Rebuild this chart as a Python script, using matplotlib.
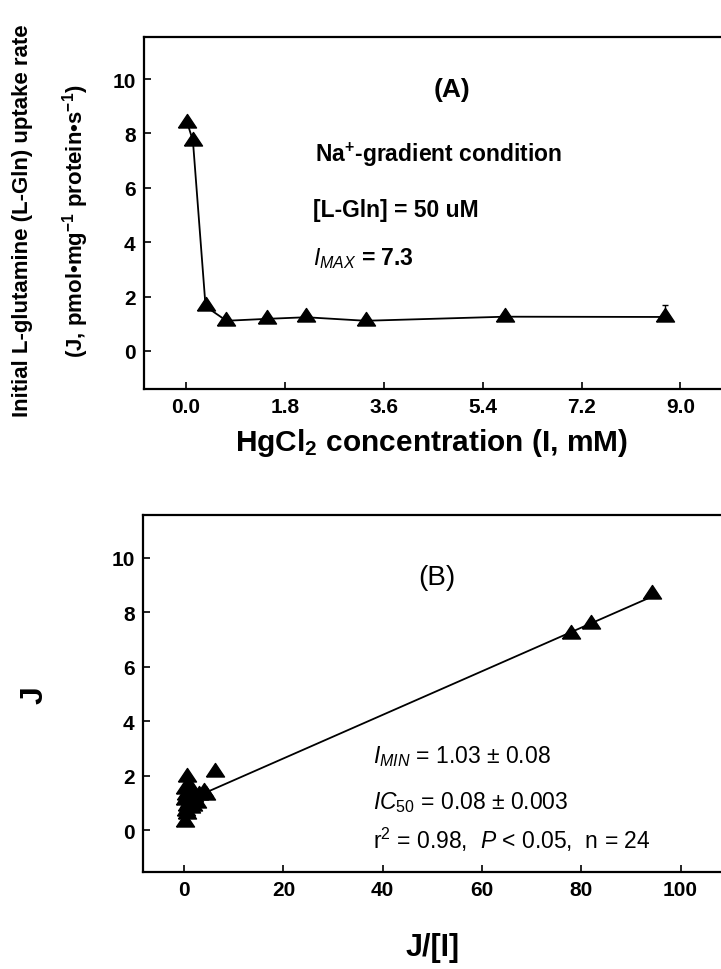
import numpy as np
import matplotlib
matplotlib.use("Agg")
import matplotlib.pyplot as plt

plt.rcParams['font.family'] = ['Liberation Sans', 'DejaVu Sans']
plt.rcParams['mathtext.fontset'] = 'custom'
plt.rcParams['mathtext.rm'] = 'Liberation Sans'
plt.rcParams['mathtext.it'] = 'Liberation Sans:italic'
plt.rcParams['mathtext.bf'] = 'Liberation Sans:bold'

# panel A: uptake rate vs HgCl2 concentration
a_conc = [0.03, 0.13, 0.36, 0.74, 1.47, 2.19, 3.27, 5.81, 8.71]
a_rate = [8.38, 7.73, 1.64, 1.11, 1.18, 1.24, 1.11, 1.26, 1.25]
a_err = [0, 0, 0, 0, 0, 0, 0, 0, 0.45]
a_xticks = [0.0, 1.8, 3.6, 5.4, 7.2, 9.0]
a_xticklabels = ['0.0', '1.8', '3.6', '5.4', '7.2', '9.0']

# panel B: J vs J/[I]
b_ratio = [77.9, 81.9, 94.3, 0.5, 6.2, 0.2, 3.9, 0.3, 0.5, 1.0, 0.2, 0.8,
           1.5, 0.4, 2.0, 1.2, 0.1, 2.5, 0.6, 1.8, 0.9, 3.0, 1.4, 4.4]
b_j = [7.19, 7.56, 8.66, 1.93, 2.14, 0.28, 1.38, 0.7, 0.9, 1.0, 1.1, 1.2,
       1.1, 1.3, 1.2, 1.4, 1.5, 1.0, 0.6, 0.9, 1.6, 1.3, 0.8, 1.3]
b_fit_x = [3.9, 93.3]
b_fit_y = [1.34, 8.49]
b_xticks = [0, 20, 40, 60, 80, 100]

yticks = [0, 2, 4, 6, 8, 10]

# flat filled triangle, centroid at origin
tri = [(-1, -0.5), (1, -0.5), (0, 1.0), (-1, -0.5)]

fig = plt.figure(figsize=(7.21, 9.70), dpi=100)
axA = fig.add_axes([144 / 721, 1 - 390 / 970, 1 - 144 / 721 + 0.001, 352 / 970])
axB = fig.add_axes([143 / 721, 1 - 873 / 970, 1 - 143 / 721 + 0.001, 357 / 970])

for ax in (axA, axB):
    for s in ax.spines.values():
        s.set_linewidth(1.6)
    ax.spines['right'].set_visible(False)
    ax.tick_params(direction='in', length=5, width=1.2, labelsize=15, pad=6,
                   right=False, top=False)
    ax.set_yticks(yticks)

# ---- panel A
axA.errorbar(a_conc, a_rate, yerr=[np.zeros(len(a_err)), a_err], fmt='-',
             marker=tri, color='black', lw=1.3, ms=13, capsize=2, elinewidth=1)
axA.set_xlim(-0.76, 9.75)
axA.set_ylim(-1.4, 11.55)
axA.set_xticks(a_xticks)
axA.set_xticklabels(a_xticklabels)
for lab in axA.get_xticklabels() + axA.get_yticklabels():
    lab.set_fontweight('bold')
axA.text(4.85, 9.63, '(A)', fontsize=19, fontweight='bold', ha='center', va='center')
axA.text(2.35, 7.24, r'Na$^{\mathbf{+}}$-gradient condition', fontsize=16.5,
         fontweight='bold', va='center')
axA.text(2.31, 5.22, '[L-Gln] = 50 uM', fontsize=16.5, fontweight='bold', va='center')
axA.text(2.31, 3.45, r'$I_{MAX}$ = 7.3', fontsize=16.5, fontweight='bold', va='center')
fig.text(432 / 721, 1 - 443 / 970, r'HgCl$_{\mathbf{2}}$ concentration (I, mM)',
         fontsize=21.5, fontweight='bold', ha='center', va='center')
fig.text(23 / 721, 1 - 221 / 970, 'Initial L-glutamine (L-Gln) uptake rate',
         rotation=90, fontsize=16, fontweight='bold', ha='center', va='center')
fig.text(76 / 721, 1 - 221 / 970,
         r'(J, pmol•mg$^{\mathbf{-1}}$ protein•s$^{\mathbf{-1}}$)',
         rotation=90, fontsize=16, fontweight='bold', ha='center', va='center')

# ---- panel B
axB.plot(b_fit_x, b_fit_y, color='black', lw=1.3)
axB.plot(b_ratio, b_j, marker=tri, color='black', ms=13, ls='none')
axB.set_xlim(-8.3, 108.3)
axB.set_ylim(-1.54, 11.56)
axB.set_xticks(b_xticks)
for lab in axB.get_xticklabels() + axB.get_yticklabels():
    lab.set_fontweight('bold')
axB.text(51.0, 9.28, '(B)', fontsize=20, ha='center', va='center')
axB.text(38.1, 2.72, r'$I_{MIN}$ = 1.03 ± 0.08', fontsize=16.5, va='center')
axB.text(38.1, 1.03, r'$IC_{50}$ = 0.08 ± 0.003', fontsize=16.5, va='center')
axB.text(38.1, -0.33, r'r$^{\mathrm{2}}$ = 0.98,  $P$ < 0.05,  n = 24', fontsize=16.5,
         va='center')
fig.text(433 / 721, 1 - 948 / 970, 'J/[I]', fontsize=22, fontweight='bold',
         ha='center', va='center')
fig.text(35 / 721, 1 - 695 / 970, 'J', fontsize=23, fontweight='bold',
         rotation=90, ha='center', va='center')

fig.savefig('out.png', dpi=100)
